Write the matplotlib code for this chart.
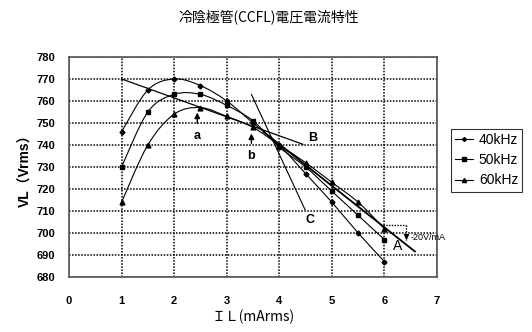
import matplotlib
matplotlib.use('Agg')
import matplotlib.pyplot as plt
from matplotlib.path import Path
from matplotlib.patches import PathPatch
from matplotlib.lines import Line2D

plt.rcParams['font.family'] = ['Liberation Sans', 'Noto Sans CJK JP', 'DejaVu Sans']

il = [1, 1.5, 2, 2.5, 3, 3.5, 4, 4.5, 5, 5.5, 6]
vl_40k = [746, 765, 770, 767, 760, 750, 740, 727, 714, 700, 687]
vl_50k = [730, 755, 763, 763, 758, 751, 739, 730, 719, 708, 697]
vl_60k = [714, 740, 754, 757, 753, 748, 740, 732, 723, 714, 702]

# tangent lines (x, y)
line_b = ([1.0, 4.45], [770, 740.3])
line_c = ([3.47, 4.49], [763, 710.6])
line_a = ([3.7, 6.58], [746, 691.6])


def smooth_path(xs, ys):
    # Excel-style smoothed line: cubic bezier segments through the points
    pts = list(zip(xs, ys))
    verts = [pts[0]]
    codes = [Path.MOVETO]
    n = len(pts)
    for i in range(n - 1):
        p0 = pts[i - 1] if i > 0 else pts[i]
        p1 = pts[i]
        p2 = pts[i + 1]
        p3 = pts[i + 2] if i + 2 < n else pts[i + 1]
        c1 = (p1[0] + (p2[0] - p0[0]) / 6, p1[1] + (p2[1] - p0[1]) / 6)
        c2 = (p2[0] - (p3[0] - p1[0]) / 6, p2[1] - (p3[1] - p1[1]) / 6)
        verts += [c1, c2, p2]
        codes += [Path.CURVE4] * 3
    return Path(verts, codes)


fig = plt.figure(figsize=(5.32, 3.32), dpi=100)
ax = fig.add_axes([0.1297, 0.1657, 0.6917, 0.6627])

series = [('40kHz', vl_40k, 'D', 2.5), ('50kHz', vl_50k, 's', 3.2), ('60kHz', vl_60k, '^', 3.5)]
handles = []
for name, vals, mk, ms in series:
    ax.add_patch(PathPatch(smooth_path(il, vals), fill=False, edgecolor='black', lw=0.8, zorder=3))
    ax.plot(il, vals, ls='none', color='black', marker=mk, ms=ms, zorder=4)
    handles.append(Line2D([], [], color='black', lw=0.8, marker=mk, ms=ms - 0.5, label=name))

ax.plot(*line_b, color='black', lw=0.9)
ax.plot(*line_c, color='black', lw=0.8)
ax.plot(*line_a, color='black', lw=1.3)

# -20V/mA slope marker
ax.plot([5.97, 6.42], [703.5, 703.5], color='black', lw=1, ls=(0, (1, 1)))
ax.plot([6.42, 6.42], [703.5, 697], color='black', lw=1, ls=(0, (1, 1)))
ax.annotate('', xy=(6.42, 695.5), xytext=(6.42, 700),
            arrowprops=dict(arrowstyle='-|>', color='black', lw=1, mutation_scale=7))
ax.text(6.49, 698, '-20V/mA', fontsize=6.5, va='center', ha='left')

# a / b arrows
ax.annotate('', xy=(2.44, 756), xytext=(2.44, 748.5),
            arrowprops=dict(arrowstyle='-|>', color='black', lw=1, mutation_scale=8))
ax.text(2.44, 744, 'a', fontsize=9, fontweight='bold', ha='center', va='center')
ax.annotate('', xy=(3.47, 746.5), xytext=(3.47, 739.5),
            arrowprops=dict(arrowstyle='-|>', color='black', lw=1, mutation_scale=8))
ax.text(3.47, 735, 'b', fontsize=9, fontweight='bold', ha='center', va='center')

ax.text(4.64, 743, 'B', fontsize=9, fontweight='bold', ha='center', va='center')
ax.text(4.58, 705.7, 'C', fontsize=9, fontweight='bold', ha='center', va='center')
ax.text(6.25, 694, 'A', fontsize=10, ha='center', va='center')

ax.set_xlim(0, 7)
ax.set_ylim(680, 780)
ax.set_xticks(range(0, 8))
ax.set_yticks(range(680, 781, 10))
ax.tick_params(length=0, labelsize=8)
ax.tick_params(axis='x', pad=14)
ax.tick_params(axis='y', pad=10)
for lbl in ax.get_xticklabels() + ax.get_yticklabels():
    lbl.set_fontweight('bold')
ax.grid(True, color='black', lw=1.1, ls=(0, (1, 1)))
for s in ax.spines.values():
    s.set_color('#555555')
    s.set_linewidth(1.2)

ax.set_xlabel('ＩＬ(mArms)', fontsize=10, family=['Noto Sans CJK JP'], labelpad=2)
ax.set_ylabel('VL（Vrms）', fontsize=10, fontweight='bold', labelpad=3,
              family=['Liberation Sans', 'Noto Sans CJK JP'])

fig.text(0.505, 0.949, '冷陰極管(CCFL)電圧電流特性', fontsize=10, ha='center', va='center',
         family=['Noto Sans CJK JP'])

leg = fig.legend(handles=handles, loc='upper left', bbox_to_anchor=(0.848, 0.612), frameon=True,
                 fancybox=False, prop={'size': 10}, handlelength=1.3,
                 borderpad=0.3, labelspacing=0.45, handletextpad=0.4, borderaxespad=0)
leg.get_frame().set_edgecolor('black')
leg.get_frame().set_linewidth(0.8)

fig.savefig('out.png', dpi=100)
